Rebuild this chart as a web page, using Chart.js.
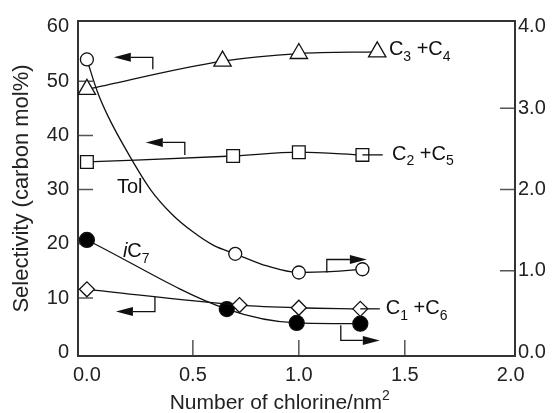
<!DOCTYPE html>
<html>
<head>
<meta charset="utf-8">
<script src="https://cdn.jsdelivr.net/npm/chart.js@4.4.1/dist/chart.umd.min.js"></script>
<style>
  html, body { margin: 0; padding: 0; background: #fff; }
  #wrap { width: 558px; height: 413px; }
</style>
</head>
<body>
<div id="wrap"><canvas id="selChart" width="558" height="413"></canvas></div>
<script>
// Values
const xTicks = [0, 0.5, 1.0, 1.5, 2.0];
const leftTicks = [0, 10, 20, 30, 40, 50, 60];
const rightTicks = [0, 1, 2, 3, 4];

// left axis series (carbon mol%)
const c34X = [0, 0.64, 1.0, 1.37];
const c34Y = [48.5, 53.7, 55.1, 55.4];
const c25X = [0, 0.69, 1.0, 1.30];
const c25Y = [35.1, 36.2, 36.9, 36.4];
const c16X = [0, 0.72, 1.0, 1.29];
const c16Y = [11.6, 8.7, 8.2, 8.0];

// right axis series
const tolX = [0, 0.70, 1.0, 1.30];
const tolY = [3.6, 1.21, 0.98, 1.02];
const ic7X = [0, 0.66, 0.99, 1.29];
const ic7Y = [1.38, 0.53, 0.36, 0.35];

// Tol fitted curve
const tolFitX = [0, 0.05, 0.1, 0.2, 0.3, 0.4, 0.5, 0.6, 0.7, 0.85, 1.0, 1.15, 1.3];
const tolFitY = [3.6, 3.2, 2.9, 2.42, 2.0, 1.7, 1.48, 1.31, 1.21, 1.06, 0.98, 0.99, 1.02];

const FONT = "'Liberation Sans', Arial, Helvetica, sans-serif";
const INK = "#111";

function pts(xs, ys) {
  return xs.map((x, i) => ({ x: x, y: ys[i] }));
}

// arrows telling which axis a curve belongs to
const axisArrows = [
  { axis: "y", x: 0.311, from: 52.2, to: 54.4, tip: 0.127 },
  { axis: "y", x: 0.462, from: 36.4, to: 38.7, tip: 0.278 },
  { axis: "y", x: 0.321, from: 10.2, to: 7.5, tip: 0.137 },
  { axis: "y1", x: 1.132, from: 0.98, to: 1.14, tip: 1.321 },
  { axis: "y1", x: 1.198, from: 0.33, to: 0.145, tip: 1.382 },
];

const curveLabels = [
  { axis: "y", x: 1.425, y: 55.8, parts: [["C"], ["3", "sub"], [" +C"], ["4", "sub"]] },
  { axis: "y", x: 1.44, y: 36.5, lead: { x0: 1.30, y: 36.4, x1: 1.396 }, parts: [["C"], ["2", "sub"], [" +C"], ["5", "sub"]] },
  { axis: "y", x: 1.41, y: 8.0, lead: { x0: 1.29, y: 8.0, x1: 1.382 }, parts: [["C"], ["1", "sub"], [" +C"], ["6", "sub"]] },
  { axis: "y", x: 0.142, y: 30.4, parts: [["Tol"]] },
  { axis: "y", x: 0.17, y: 18.5, parts: [["i", "it"], ["C"], ["7", "sub"]] },
];

const xTitleParts = [["Number of chlorine/nm"], ["2", "sup"]];

function partFont(kind, size) {
  if (kind === "sub" || kind === "sup") return `14px ${FONT}`;
  if (kind === "it") return `italic ${size}px ${FONT}`;
  return `${size}px ${FONT}`;
}

function richWidth(ctx, parts, size) {
  let w = 0;
  parts.forEach(([t, kind]) => {
    ctx.font = partFont(kind, size);
    w += ctx.measureText(t).width;
  });
  return w;
}

function drawRich(ctx, x, y, parts, size = 20) {
  let cx = x;
  ctx.textBaseline = "middle";
  ctx.textAlign = "left";
  parts.forEach(([t, kind]) => {
    ctx.font = partFont(kind, size);
    let dy = 0;
    if (kind === "sub") dy = 7;
    if (kind === "sup") dy = -7;
    ctx.fillText(t, cx, y + dy);
    cx += ctx.measureText(t).width;
  });
}

const decor = {
  id: "decor",
  beforeDatasetsDraw(chart) {
    const { ctx, chartArea: a, scales } = chart;
    ctx.save();
    // inward tick marks
    ctx.strokeStyle = "#555";
    ctx.lineWidth = 1.5;
    ctx.beginPath();
    [10, 20, 30, 40, 50].forEach((v) => {
      const py = scales.y.getPixelForValue(v);
      ctx.moveTo(a.left, py);
      ctx.lineTo(a.left + 15, py);
    });
    [1, 2, 3].forEach((v) => {
      const py = scales.y1.getPixelForValue(v);
      ctx.moveTo(a.right, py);
      ctx.lineTo(a.right - 15, py);
    });
    [0.5, 1.0, 1.5].forEach((v) => {
      const px = scales.x.getPixelForValue(v);
      ctx.moveTo(px, a.bottom);
      ctx.lineTo(px, a.bottom - 16);
    });
    ctx.stroke();
    // frame
    ctx.strokeStyle = "#333";
    ctx.lineWidth = 2;
    ctx.strokeRect(a.left, a.top, a.right - a.left, a.bottom - a.top);
    ctx.restore();
  },
  afterDatasetsDraw(chart) {
    const { ctx, scales } = chart;
    const sx = scales.x;
    ctx.save();
    ctx.strokeStyle = INK;
    ctx.fillStyle = INK;
    ctx.lineWidth = 1.3;

    axisArrows.forEach((ar) => {
      const sy = scales[ar.axis];
      const x0 = sx.getPixelForValue(ar.x);
      const y0 = sy.getPixelForValue(ar.from);
      const y1 = sy.getPixelForValue(ar.to);
      const xt = sx.getPixelForValue(ar.tip);
      const dir = xt < x0 ? 1 : -1; // head base is on this side of the tip
      const headLen = 17;
      ctx.beginPath();
      ctx.moveTo(x0, y0);
      ctx.lineTo(x0, y1);
      ctx.lineTo(xt + dir * headLen, y1);
      ctx.stroke();
      ctx.beginPath();
      ctx.moveTo(xt, y1);
      ctx.lineTo(xt + dir * headLen, y1 - 4.5);
      ctx.lineTo(xt + dir * headLen, y1 + 4.5);
      ctx.closePath();
      ctx.fill();
    });

    curveLabels.forEach((lb) => {
      const sy = scales[lb.axis];
      if (lb.lead) {
        const ly = sy.getPixelForValue(lb.lead.y);
        ctx.beginPath();
        ctx.moveTo(sx.getPixelForValue(lb.lead.x0), ly);
        ctx.lineTo(sx.getPixelForValue(lb.lead.x1), ly);
        ctx.stroke();
      }
      drawRich(ctx, sx.getPixelForValue(lb.x), sy.getPixelForValue(lb.y), lb.parts);
    });

    // x axis title (with superscript), centred a bit left of the plot middle like the original
    ctx.fillStyle = "#222";
    const w = richWidth(ctx, xTitleParts, 21);
    drawRich(ctx, sx.getPixelForValue(0.91) - w / 2, chart.height - 10, xTitleParts, 21);
    ctx.restore();
  },
};

const base = {
  borderColor: INK,
  borderWidth: 1.3,
  pointBorderColor: INK,
  pointBorderWidth: 1.3,
  pointBackgroundColor: "#fff",
  cubicInterpolationMode: "monotone",
  clip: false,
};

const ctx = document.getElementById("selChart").getContext("2d");
new Chart(ctx, {
  type: "line",
  data: {
    datasets: [
      { ...base, label: "C2+C5", data: pts(c25X, c25Y), yAxisID: "y", pointStyle: "rect", pointRadius: 9, order: 1 },
      { ...base, label: "Tol", data: pts(tolX, tolY), yAxisID: "y1", showLine: false, pointStyle: "circle", pointRadius: 6.5, order: 2 },
      { ...base, label: "Tol fit", data: pts(tolFitX, tolFitY), yAxisID: "y1", pointRadius: 0, order: 3 },
      { ...base, label: "C1+C6", data: pts(c16X, c16Y), yAxisID: "y", pointStyle: "rectRot", pointRadius: 7.5, order: 4 },
      { ...base, label: "iC7", data: pts(ic7X, ic7Y), yAxisID: "y1", pointStyle: "circle", pointRadius: 7.5, pointBackgroundColor: "#000", order: 5 },
      { ...base, label: "C3+C4", data: pts(c34X, c34Y), yAxisID: "y", pointStyle: "triangle", pointRadius: 10, order: 6 },
    ],
  },
  options: {
    responsive: false,
    animation: false,
    layout: { padding: { top: 16, left: 0, right: 0, bottom: 0 } },
    plugins: { legend: { display: false }, tooltip: { enabled: false } },
    scales: {
      x: {
        type: "linear",
        min: -0.042,
        max: 2.02,
        afterBuildTicks: (s) => { s.ticks = xTicks.map((v) => ({ value: v })); },
        afterFit: (s) => { s.height = 57; },
        grid: { display: false, drawTicks: false },
        border: { display: false },
        ticks: { callback: (v) => Number(v).toFixed(1), color: "#222", padding: 7, maxRotation: 0, autoSkip: false, font: { family: FONT, size: 20 } },
        title: { display: false },
      },
      y: {
        position: "left",
        min: -0.7,
        max: 61.1,
        afterBuildTicks: (s) => { s.ticks = leftTicks.map((v) => ({ value: v })); },
        afterFit: (s) => { s.width = 78; },
        grid: { display: false, drawTicks: false },
        border: { display: false },
        ticks: { color: "#222", padding: 9, font: { family: FONT, size: 20 } },
        title: { display: true, text: "Selectivity (carbon mol%)", color: "#222", padding: { top: 9, bottom: 0 }, font: { family: FONT, size: 22 } },
      },
      y1: {
        position: "right",
        min: -0.047,
        max: 4.073,
        afterBuildTicks: (s) => { s.ticks = rightTicks.map((v) => ({ value: v })); },
        afterFit: (s) => { s.width = 43; },
        grid: { display: false, drawTicks: false },
        border: { display: false },
        ticks: { callback: (v) => Number(v).toFixed(1), color: "#222", padding: 3, font: { family: FONT, size: 20 } },
      },
    },
  },
  plugins: [decor],
});
</script>
</body>
</html>
